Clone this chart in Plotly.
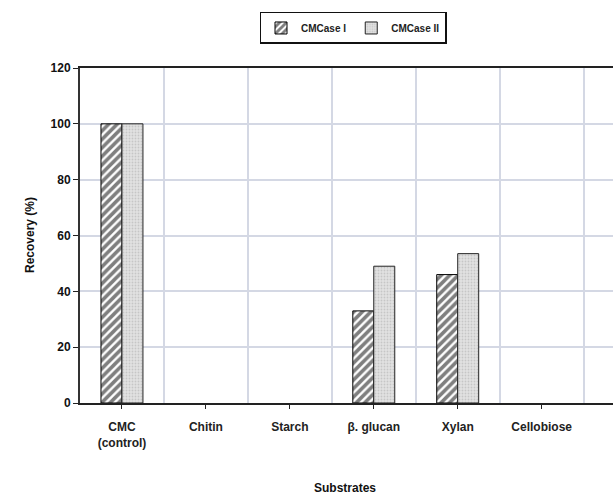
import plotly.graph_objects as go

categories = ["CMC<br>(control)", "Chitin", "Starch", "β. glucan", "Xylan", "Cellobiose"]
cmcase_1 = [100, None, None, 33, 46, None]
cmcase_2 = [100, None, None, 49, 53.5, None]
y_ticks = [0, 20, 40, 60, 80, 100, 120]

xpos = list(range(len(categories)))
FAM = "Liberation Sans, Arial"

fig = go.Figure()
fig.add_bar(x=xpos, y=cmcase_1, name="<b>CMCase I</b>",
            marker=dict(color="white", line=dict(color="#000", width=1),
                        pattern=dict(shape="/", fgcolor="#000", bgcolor="white", size=6, solidity=0.6)))
fig.add_bar(x=xpos, y=cmcase_2, name="<b>CMCase II</b>",
            marker=dict(color="#dcdcdc", line=dict(color="#222", width=1),
                        pattern=dict(shape=".", fgcolor="#aaa", bgcolor="#e2e2e2", size=3, solidity=0.3)))

fig.update_layout(
    width=613, height=499,
    margin=dict(l=80, r=0, t=68, b=96, autoexpand=False),
    paper_bgcolor="white", plot_bgcolor="white",
    barmode="group", bargap=0.5, bargroupgap=0,
    showlegend=True,
    legend=dict(orientation="h", x=(353 - 80) / 533, xref="paper", xanchor="center",
                y=0.976, yref="container", yanchor="top",
                bordercolor="#111", borderwidth=1.5,
                font=dict(family=FAM, size=10, color="#222"),
                itemwidth=30, tracegroupgap=0),
    xaxis=dict(range=[-0.5, 5.85], tickmode="array", tickvals=xpos,
               ticktext=["<b>" + c + "</b>" for c in categories], automargin=False,
               showgrid=False, showline=True, linecolor="#222", linewidth=2, mirror=True,
               ticks="outside", ticklen=4, tickcolor="#222", zeroline=False,
               ticklabelstandoff=8,
               tickfont=dict(family=FAM, size=12, color="#222"),
               minor=dict(tick0=0.5, dtick=1, showgrid=True, gridcolor="#d4d8e4", gridwidth=1.5)),
    yaxis=dict(range=[0, 120], tickmode="array", tickvals=y_ticks,
               ticktext=["<b>%d</b>" % v for v in y_ticks], automargin=False,
               showgrid=True, gridcolor="#d4d8e4", gridwidth=1.5,
               showline=True, linecolor="#333", linewidth=2, mirror=True,
               ticks="outside", ticklen=5, tickcolor="#222", zeroline=False,
               tickfont=dict(family=FAM, size=12, color="#111")),
    annotations=[
        dict(text="<b>Substrates</b>", x=(345 - 80) / 533, xref="paper", xanchor="center",
             y=-(488 - 403) / 335, yref="paper", yanchor="middle",
             showarrow=False, font=dict(family=FAM, size=12, color="#111")),
        dict(text="<b>Recovery (%)</b>", x=-(80 - 30) / 533, xref="paper", xanchor="center",
             y=(403 - 235) / 335, yref="paper", textangle=-90,
             showarrow=False, font=dict(family=FAM, size=12, color="#111")),
    ],
)
fig.write_html("out.html", config={"displayModeBar": False},
               post_script="document.body.style.margin='0';document.body.style.padding='0';")
